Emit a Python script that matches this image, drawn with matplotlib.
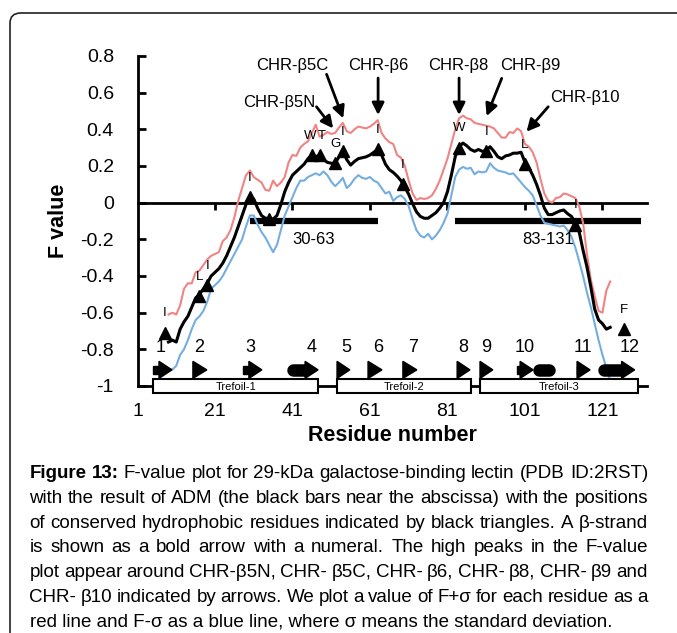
import matplotlib
matplotlib.use('Agg')
import numpy as np
import matplotlib.pyplot as plt
from matplotlib.patches import Rectangle, Polygon, FancyBboxPatch

plt.rcParams['font.family'] = ['Liberation Sans', 'DejaVu Sans']
plt.rcParams['axes.unicode_minus'] = False

# F value per residue, with F+sigma (red) and F-sigma (blue)
residues = list(range(9, 124))
f_value = [-0.76, -0.75, -0.76, -0.69, -0.65, -0.62, -0.57, -0.52, -0.50, -0.47,
           -0.44, -0.40, -0.38, -0.36, -0.33, -0.29, -0.24, -0.19, -0.13, -0.07,
           -0.01, 0.035, 0.02, -0.03, -0.07, -0.085, -0.085, -0.09, -0.07, -0.01,
           0.06, 0.11, 0.15, 0.17, 0.19, 0.21, 0.24, 0.26, 0.25, 0.26,
           0.235, 0.22, 0.215, 0.215, 0.25, 0.28, 0.235, 0.205, 0.225, 0.24,
           0.245, 0.25, 0.26, 0.275, 0.29, 0.26, 0.21, 0.18, 0.165, 0.145,
           0.12, 0.085, 0.045, -0.005, -0.05, -0.075, -0.085, -0.085, -0.07, -0.055,
           -0.03, 0.00, 0.06, 0.15, 0.25, 0.305, 0.325, 0.31, 0.29, 0.28,
           0.29, 0.28, 0.285, 0.305, 0.28, 0.25, 0.24, 0.255, 0.26, 0.27,
           0.27, 0.275, 0.22, 0.19, 0.15, 0.10, 0.04, -0.03, -0.065, -0.065,
           -0.055, -0.045, -0.04, -0.06, -0.075, -0.11, -0.16, -0.26, -0.35, -0.46,
           -0.58, -0.64, -0.66, -0.69, -0.68]
f_plus_sigma = [-0.61, -0.60, -0.61, -0.56, -0.47, -0.44, -0.44, -0.38, -0.37, -0.34,
                -0.31, -0.29, -0.28, -0.27, -0.21, -0.19, -0.15, -0.08, 0.01, 0.08,
                0.15, 0.175, 0.14, 0.125, 0.11, 0.07, 0.065, 0.12, 0.09, 0.11,
                0.14, 0.22, 0.26, 0.255, 0.30, 0.32, 0.335, 0.38, 0.425, 0.36,
                0.37, 0.385, 0.375, 0.38, 0.41, 0.435, 0.39, 0.38, 0.40, 0.415,
                0.41, 0.405, 0.415, 0.43, 0.45, 0.38, 0.35, 0.33, 0.32, 0.26,
                0.245, 0.20, 0.12, 0.05, 0.015, 0.025, 0.02, 0.025, 0.04, 0.075,
                0.12, 0.18, 0.24, 0.32, 0.40, 0.46, 0.475, 0.46, 0.455, 0.435,
                0.43, 0.425, 0.42, 0.415, 0.405, 0.38, 0.355, 0.355, 0.385, 0.38,
                0.405, 0.39, 0.32, 0.305, 0.275, 0.22, 0.13, 0.05, 0.01, 0.0,
                0.025, 0.03, 0.05, 0.045, 0.035, 0.025, -0.02, -0.11, -0.28, -0.42,
                -0.51, -0.59, -0.60, -0.48, -0.43]
f_minus_sigma = [-0.91, -0.91, -0.89, -0.83, -0.80, -0.75, -0.69, -0.64, -0.62, -0.59,
                 -0.54, -0.47, -0.45, -0.43, -0.40, -0.36, -0.32, -0.28, -0.24, -0.20,
                 -0.13, -0.07, -0.07, -0.12, -0.16, -0.19, -0.23, -0.27, -0.23, -0.15,
                 -0.07, -0.02, 0.03, 0.08, 0.12, 0.12, 0.14, 0.15, 0.16, 0.15,
                 0.17, 0.15, 0.115, 0.09, 0.11, 0.135, 0.08, 0.10, 0.13, 0.15,
                 0.135, 0.13, 0.14, 0.12, 0.11, 0.08, 0.05, 0.06, 0.01, 0.03,
                 0.04, 0.02, -0.02, -0.09, -0.15, -0.18, -0.19, -0.17, -0.20, -0.18,
                 -0.15, -0.11, -0.06, 0.04, 0.14, 0.18, 0.195, 0.185, 0.19, 0.155,
                 0.17, 0.165, 0.17, 0.215, 0.19, 0.175, 0.17, 0.165, 0.155, 0.16,
                 0.135, 0.11, 0.085, 0.065, 0.04, -0.015, -0.07, -0.11, -0.115, -0.12,
                 -0.125, -0.13, -0.125, -0.15, -0.185, -0.245, -0.32, -0.40, -0.49, -0.57,
                 -0.66, -0.75, -0.83, -0.90, -0.97]

# conserved hydrophobic residues (black triangles)
hyd_res = [8, 17, 19, 30, 35, 46, 48, 52, 54, 63, 69.5, 84, 91, 101, 114, 126.5]
hyd_val = [-0.71, -0.51, -0.45, 0.03, -0.09, 0.26, 0.26, 0.215, 0.28, 0.29,
           0.10, 0.30, 0.28, 0.21, -0.12, -0.69]
hyd_lab = ['I', 'L', 'I', 'I', '', 'W', 'T', 'G', 'I', 'I', 'I', 'W', 'I', 'L', 'I', 'F']

# ADM result (black bars near the abscissa)
adm_start = [30, 83]
adm_end = [63, 131]
adm_labels = ['30-63', '83-131']

# beta strands
strand_num = [str(i) for i in range(1, 13)]
strand_start = [5.0, 15.3, 28.2, 39.6, 52.5, 60.5, 69.5, 83.5, 89.4, 98.9, 114.4, 119.7]
strand_end = [9.9, 18.9, 33.1, 47.6, 55.8, 64.1, 73.1, 86.8, 92.7, 103.1, 117.8, 129.3]
strand_kind = ['arrow', 'head', 'arrow', 'oval', 'head', 'head', 'head', 'head',
               'head', 'arrow', 'arrow', 'oval']
strand_label_x = [7, 17, 30, 46, 55, 63, 72, 85, 91, 101, 116, 128]
loop_start = [103.1]
loop_end = [108.7]

trefoil_names = ['Trefoil-1', 'Trefoil-2', 'Trefoil-3']
trefoil_start = [5.1, 52.6, 89.4]
trefoil_end = [47.7, 87.0, 130.2]

chr_labels = ['CHR-β5N', 'CHR-β5C', 'CHR-β6', 'CHR-β8', 'CHR-β9', 'CHR-β10']
chr_text_x = [37.7, 41.0, 63.1, 83.9, 102.5, 116.5]
chr_text_y = [0.546, 0.746, 0.746, 0.746, 0.746, 0.573]
chr_tail = [(47.2, 0.523), (49.8, 0.70), (63.1, 0.68), (84.0, 0.68), (95.0, 0.678), (107.0, 0.523)]
chr_head = [(51.5, 0.405), (54.1, 0.46), (63.1, 0.478), (84.0, 0.478), (91.1, 0.472), (101.4, 0.387)]

yticks = [0.8, 0.6, 0.4, 0.2, 0.0, -0.2, -0.4, -0.6, -0.8, -1.0]
ytick_labels = ['0.8', '0.6', '0.4', '0.2', '0', '-0.2', '-0.4', '-0.6', '-0.8', '-1']
xticks = [1, 21, 41, 61, 81, 101, 121]

caption_lines = [
    'Figure 13: F-value plot for 29-kDa galactose-binding lectin (PDB ID:2RST)',
    'with the result of ADM (the black bars near the abscissa) with the positions',
    'of conserved hydrophobic residues indicated by black triangles. A β-strand',
    'is shown as a bold arrow with a numeral. The high peaks in the F-value',
    'plot appear around CHR-β5N, CHR- β5C, CHR- β6, CHR- β8, CHR- β9 and',
    'CHR- β10 indicated by arrows. We plot a value of F+σ for each residue as a',
]
caption_last = 'red line and F-σ as a blue line, where σ means the standard deviation.'
cap_fs = 13.5

W, H = 677, 633
fig = plt.figure(figsize=(W / 100, H / 100), dpi=100)
ax = fig.add_axes([137.5 / W, 247 / H, 509.5 / W, 330 / H])

ax.plot(residues, f_plus_sigma, color='#f08484', lw=1.5, zorder=3)
ax.plot(residues, f_minus_sigma, color='#74aee0', lw=1.5, zorder=3)
ax.plot(residues, f_value, color='black', lw=2.2, zorder=4)

for s, e in zip(adm_start, adm_end):
    ax.plot([s, e], [-0.1, -0.1], color='black', lw=4.5, solid_capstyle='butt', zorder=2)
ax.text(46.5, -0.2, adm_labels[0], ha='center', va='center', fontsize=12)
ax.text(107, -0.2, adm_labels[1], ha='center', va='center', fontsize=12)

ax.plot(hyd_res, hyd_val, linestyle='none', marker='^', color='black', markersize=8, zorder=5)
for r, v, lab in zip(hyd_res, hyd_val, hyd_lab):
    dx = {'W': -1.5, 'T': 1.5}.get(lab, 0) if abs(r - 47) < 2 else 0
    ax.annotate(lab, (r, v), xytext=(dx, 14), textcoords='offset points',
                ha='center', va='center', fontsize=9.5)

for lab, tx, ty, tail, head in zip(chr_labels, chr_text_x, chr_text_y, chr_tail, chr_head):
    ax.text(tx, ty, lab, ha='center', va='center', fontsize=12)
    ax.annotate('', xy=head, xytext=tail,
                arrowprops=dict(arrowstyle='-|>', color='black', lw=2,
                                mutation_scale=18, shrinkA=0, shrinkB=0))

# strands
sy = -0.912
hw = 3.35
hh = 0.0465
for num, s, e, kind, lx in zip(strand_num, strand_start, strand_end, strand_kind, strand_label_x):
    ax.text(lx, -0.79, num, ha='center', va='center', fontsize=13)
    if kind == 'head':
        hs = s
    else:
        hs = e - hw
    ax.add_patch(Polygon([(hs, sy + hh), (e, sy), (hs, sy - hh)], closed=True,
                         color='black', clip_on=False, zorder=5))
    if kind == 'arrow':
        ax.add_patch(Rectangle((s, sy - 0.022), hs - s + 0.2, 0.044, color='black',
                               clip_on=False, zorder=5))
    elif kind == 'oval':
        ax.plot([s + 1.6, hs], [sy, sy], color='black', lw=9,
                solid_capstyle='round', clip_on=False, zorder=5)
for s, e in zip(loop_start, loop_end):
    ax.plot([s + 1.6, e - 1.6], [sy, sy], color='black', lw=9,
            solid_capstyle='round', clip_on=False, zorder=5)

for name, s, e in zip(trefoil_names, trefoil_start, trefoil_end):
    ax.add_patch(Rectangle((s, -1.038), e - s, 0.076, facecolor='white', edgecolor='black',
                           lw=1.5, clip_on=False, zorder=6))
    ax.text((s + e) / 2, -1.003, name, ha='center', va='center', fontsize=8,
            zorder=7, clip_on=False)

ax.set_xlim(1, 132.5)
ax.set_ylim(-1, 0.8)
ax.set_yticks(yticks)
ax.set_yticklabels(ytick_labels)
ax.set_xticks(xticks)
ax.tick_params(axis='y', direction='in', length=6, width=2, labelsize=14, pad=17)
ax.tick_params(axis='x', length=0, labelsize=14, pad=12)
for sp in ['top', 'right']:
    ax.spines[sp].set_visible(False)
ax.spines['left'].set_linewidth(2)
ax.spines['bottom'].set_linewidth(2)
ax.set_facecolor('none')

# zero line with its ticks
zero_ax = ax.secondary_xaxis(1 / 1.8)
zero_ax.set_xticks(xticks[1:])
zero_ax.tick_params(axis='x', direction='in', length=5, width=2,
                    labeltop=False, labelbottom=False)
zero_ax.spines['top'].set_linewidth(2)

ax.set_xlabel('Residue number', fontsize=15.5, fontweight='bold')
ax.xaxis.set_label_coords(0.5, -0.118)
ax.set_ylabel('F value', fontsize=15.5, fontweight='bold')
ax.yaxis.set_label_coords(-0.135, 0.5)

# frame around figure + caption
frame = FancyBboxPatch((10 / W, -0.1), 1.2, 1 - 13 / H + 0.1,
                       boxstyle='round,pad=0,rounding_size=0.016',
                       transform=fig.transFigure, fill=False,
                       edgecolor='#222222', lw=1.2)
fig.patches.append(frame)

# justified caption lines, word by word
renderer = fig.canvas.get_renderer()
x0, x1 = 29.5, 648
for i, line in enumerate(caption_lines):
    yb = 1 - (478.3 + 24.7 * i) / H
    words = line.split(' ')
    objs = []
    for j, w in enumerate(words):
        bold = (i == 0 and j < 2)
        objs.append(fig.text(0, yb, w, fontsize=cap_fs, va='baseline', ha='left',
                             fontweight='bold' if bold else 'normal'))
    widths = [t.get_window_extent(renderer).width for t in objs]
    gap = max((x1 - x0 - sum(widths)) / (len(words) - 1), 2.5)
    x = x0
    for t, wd in zip(objs, widths):
        t.set_x(x / W)
        x += wd + gap
fig.text(x0 / W, 1 - (478.3 + 24.7 * len(caption_lines)) / H, caption_last,
         fontsize=cap_fs, va='baseline', ha='left')

fig.savefig('out.png', dpi=100)
